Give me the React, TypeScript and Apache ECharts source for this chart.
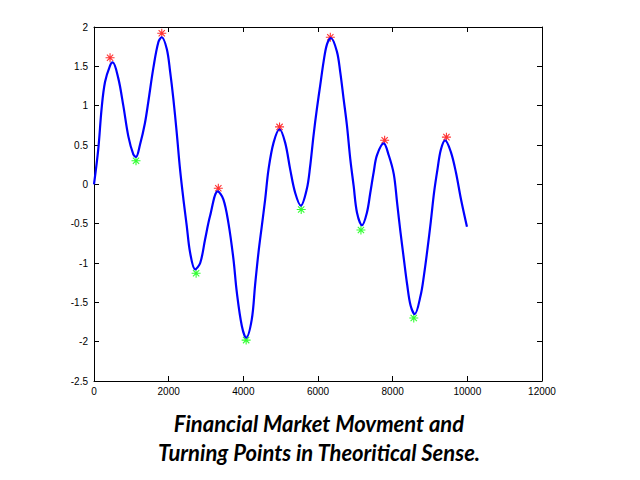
import React, { useEffect, useRef } from "react";
import * as echarts from "echarts";

const lineX = [0, 115, 205, 295, 430, 500, 650, 785, 920, 1053, 1125, 1230, 1365, 1455, 1590, 1725, 1815, 1950, 2040, 2125, 2215, 2305, 2395, 2485, 2575, 2710, 2845, 2975, 3110, 3315, 3465, 3600, 3735, 3825, 3960, 4075, 4225, 4315, 4405, 4495, 4585, 4675, 4810, 4970, 5120, 5255, 5390, 5540, 5700, 5790, 5880, 5970, 6060, 6150, 6240, 6345, 6505, 6595, 6685, 6775, 6865, 6955, 7045, 7180, 7310, 7400, 7490, 7580, 7760, 7895, 8030, 8120, 8210, 8300, 8390, 8480, 8590, 8750, 8840, 8930, 9020, 9110, 9200, 9290, 9405, 9560, 9695, 9830, 9990];
const lineY = [0, 0.45, 0.97, 1.3, 1.51, 1.55, 1.35, 1.0, 0.61, 0.38, 0.35, 0.5, 0.78, 1.05, 1.48, 1.81, 1.87, 1.72, 1.43, 1.09, 0.66, 0.19, -0.19, -0.53, -0.87, -1.08, -1.0, -0.7, -0.4, -0.09, -0.19, -0.49, -0.95, -1.37, -1.8, -1.95, -1.72, -1.28, -0.87, -0.53, -0.19, 0.19, 0.53, 0.7, 0.53, 0.19, -0.11, -0.27, -0.06, 0.23, 0.62, 0.96, 1.26, 1.56, 1.78, 1.86, 1.69, 1.43, 1.09, 0.75, 0.32, -0.02, -0.36, -0.52, -0.36, -0.11, 0.15, 0.37, 0.52, 0.37, 0.13, -0.24, -0.61, -0.95, -1.28, -1.54, -1.65, -1.41, -1.15, -0.83, -0.48, -0.1, 0.19, 0.44, 0.56, 0.41, 0.15, -0.19, -0.54];

const peakX = [430, 1815, 3330, 4970, 6330, 7785, 9440];
const peakY = [1.61, 1.92, -0.05, 0.73, 1.87, 0.56, 0.6];
const troughX = [1125, 2735, 4075, 5550, 7150, 8565];
const troughY = [0.3, -1.13, -1.98, -0.32, -0.58, -1.7];

const titleLines = ["Financial Market Movment and", "Turning Points in Theoritical Sense."];

const STAR = "path://M0,5L10,5M5,0L5,10M1.5,1.5L8.5,8.5M8.5,1.5L1.5,8.5";

export default function App() {
  const ref = useRef<HTMLDivElement>(null);
  useEffect(() => {
    if (!ref.current) return;
    const chart = echarts.init(ref.current, null, { renderer: "svg" });
    const axisCommon = {
      axisLine: { show: true, onZero: false, lineStyle: { color: "#000", width: 1 } },
      axisTick: { show: true, inside: true, length: 5, lineStyle: { color: "#000" } },
      splitLine: { show: false },
    };
    const fmt = (v: number) => String(v);
    chart.setOption({
      animation: false,
      backgroundColor: "#fff",
      grid: { left: 94, right: 98, top: 27, bottom: 99, containLabel: false },
      xAxis: [
        {
          type: "value", min: 0, max: 12000, interval: 2000, position: "bottom",
          ...axisCommon,
          axisLabel: { color: "#000", fontSize: 10, fontFamily: "'Liberation Sans', Arial, sans-serif", margin: 5, formatter: fmt },
        },
        {
          type: "value", min: 0, max: 12000, interval: 2000, position: "top",
          ...axisCommon, axisLabel: { show: false },
        },
      ],
      yAxis: [
        {
          type: "value", min: -2.5, max: 2, interval: 0.5, position: "left",
          ...axisCommon,
          axisLabel: { color: "#000", fontSize: 10, fontFamily: "'Liberation Sans', Arial, sans-serif", margin: 6, formatter: fmt },
        },
        {
          type: "value", min: -2.5, max: 2, interval: 0.5, position: "right",
          ...axisCommon, axisLabel: { show: false },
        },
      ],
      series: [
        {
          type: "line",
          data: lineX.map((x, i) => [x, lineY[i]]),
          smooth: 0.35,
          showSymbol: false,
          lineStyle: { color: "#0000ff", width: 2.2 },
        },
        {
          type: "scatter",
          data: peakX.map((x, i) => [x, peakY[i]]),
          symbol: STAR,
          symbolSize: 9,
          itemStyle: { color: "#ff0000", borderColor: "#ff0000", borderWidth: 1.1 },
        },
        {
          type: "scatter",
          data: troughX.map((x, i) => [x, troughY[i]]),
          symbol: STAR,
          symbolSize: 9,
          itemStyle: { color: "#00ff00", borderColor: "#00ff00", borderWidth: 1.1 },
        },
      ],
      graphic: titleLines.map((t, i) => ({
        type: "text",
        x: 319,
        y: 423 + i * 29,
        style: {
          text: t,
          fill: "#000",
          font: "italic bold 22px Lato, 'Open Sans', sans-serif",
          textAlign: "center",
          textVerticalAlign: "middle",
        },
      })),
    });
    return () => chart.dispose();
  }, []);
  return (
    <div
      ref={ref}
      style={{ position: "fixed", left: 0, top: 0, width: 640, height: 480, background: "#fff" }}
    />
  );
}
